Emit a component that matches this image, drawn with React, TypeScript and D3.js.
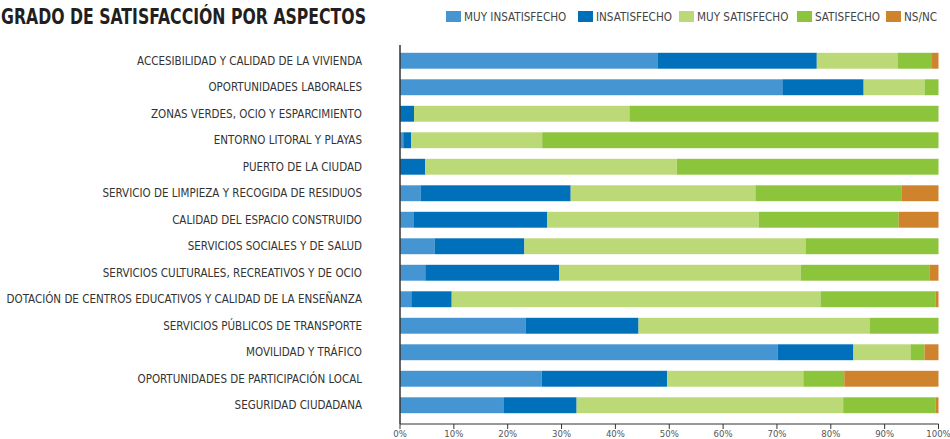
import React from "react";
import * as d3 from "d3";

const categories = [
  "ACCESIBILIDAD Y CALIDAD DE LA VIVIENDA",
  "OPORTUNIDADES LABORALES",
  "ZONAS VERDES, OCIO Y ESPARCIMIENTO",
  "ENTORNO LITORAL Y PLAYAS",
  "PUERTO DE LA CIUDAD",
  "SERVICIO DE LIMPIEZA Y RECOGIDA DE RESIDUOS",
  "CALIDAD DEL ESPACIO CONSTRUIDO",
  "SERVICIOS SOCIALES Y DE SALUD",
  "SERVICIOS CULTURALES, RECREATIVOS Y DE OCIO",
  "DOTACIÓN DE CENTROS EDUCATIVOS Y CALIDAD DE LA ENSEÑANZA",
  "SERVICIOS PÚBLICOS DE TRANSPORTE",
  "MOVILIDAD Y TRÁFICO",
  "OPORTUNIDADES DE PARTICIPACIÓN LOCAL",
  "SEGURIDAD CIUDADANA",
];

const seriesNames = ["MUY INSATISFECHO", "INSATISFECHO", "MUY SATISFECHO", "SATISFECHO", "NS/NC"];

const muyInsatisfecho = [47.8, 71.0, 0, 0.6, 0, 3.8, 2.6, 6.4, 4.7, 2.1, 23.3, 70.1, 26.3, 19.2];
const insatisfecho = [29.6, 15.1, 2.6, 1.5, 4.7, 27.9, 24.7, 16.7, 24.9, 7.5, 21.0, 14.1, 23.3, 13.6];
const muySatisfecho = [15.0, 11.3, 40.0, 24.3, 46.7, 34.3, 39.3, 52.2, 44.8, 68.5, 42.9, 10.6, 25.3, 49.5];
const satisfecho = [6.4, 2.6, 57.4, 73.6, 48.6, 27.2, 26.0, 24.7, 23.9, 21.4, 12.8, 2.6, 7.6, 17.2];
const nsnc = [1.2, 0, 0, 0, 0, 6.8, 7.4, 0, 1.7, 0.5, 0, 2.6, 17.5, 0.5];

const xTicks = [0, 10, 20, 30, 40, 50, 60, 70, 80, 90, 100];

const colors = ["#4495d1", "#0070ba", "#bcd978", "#8cc43c", "#cf832d"];

const W = 950;
const H = 439;
const FONT = "'Liberation Sans Narrow', 'DejaVu Sans Condensed', 'Roboto', sans-serif";

export default function App() {
  const rows = categories.map((c, i) => ({
    cat: c,
    [seriesNames[0]]: muyInsatisfecho[i],
    [seriesNames[1]]: insatisfecho[i],
    [seriesNames[2]]: muySatisfecho[i],
    [seriesNames[3]]: satisfecho[i],
    [seriesNames[4]]: nsnc[i],
  }));
  const stack = d3.stack<any>().keys(seriesNames);
  const layers = stack(rows as any);

  const x = d3.scaleLinear().domain([0, 100]).range([400, 938.5]);
  const y = d3.scaleBand<string>().domain(categories).range([47.5, 418.5]).paddingInner(0.4).paddingOuter(0.2);

  const legendX = [446, 578, 679, 797, 886];

  return (
    <svg width={W} height={H} style={{ position: "absolute", left: 0, top: 0, background: "#fff" }} fontFamily={FONT}>
      <text x={1} y={24} fontSize={22} fontWeight="bold" fill="#231f20" textLength={365} lengthAdjust="spacingAndGlyphs">
        GRADO DE SATISFACCIÓN POR ASPECTOS
      </text>
      {seriesNames.map((s, i) => (
        <g key={s}>
          <rect x={legendX[i]} y={11} width={15} height={11} fill={colors[i]} />
          <text x={legendX[i] + 18} y={21} fontSize={11.6} fill="#444">
            {s}
          </text>
        </g>
      ))}
      {layers.map((layer, li) => (
        <g key={layer.key} fill={colors[li]}>
          {layer.map((d, i) => (
            <rect
              key={i}
              x={x(d[0])}
              y={y(categories[i])}
              width={Math.max(0, x(d[1]) - x(d[0]))}
              height={y.bandwidth()}
            />
          ))}
        </g>
      ))}
      {categories.map((c) => (
        <text key={c} x={362} y={(y(c) as number) + y.bandwidth() / 2} dy="0.35em" textAnchor="end" fontSize={11.5} fill="#333">
          {c}
        </text>
      ))}
      <line x1={400} x2={400} y1={45} y2={424} stroke="#333" strokeWidth={1.5} />
      <line x1={400} x2={938.5} y1={424} y2={424} stroke="#333" strokeWidth={1} />
      {xTicks.map((t) => (
        <g key={t} transform={`translate(${x(t)},0)`}>
          <line y1={424} y2={429} stroke="#333" />
          <text y={437} textAnchor="middle" fontSize={9.5} fill="#555">
            {t}%
          </text>
        </g>
      ))}
    </svg>
  );
}
